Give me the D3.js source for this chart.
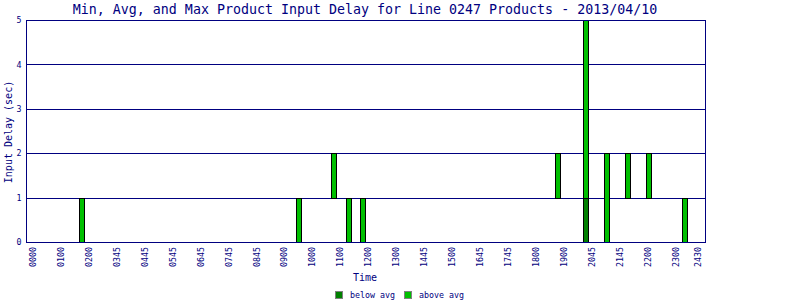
<!DOCTYPE html>
<html>
<head>
<meta charset="utf-8">
<script src="https://cdn.jsdelivr.net/npm/d3@7"></script>
<style>
  html, body { margin: 0; padding: 0; background: #fff; }
  svg { display: block; }
  text { font-family: "DejaVu Sans Mono", "Liberation Mono", monospace; fill: #000080; }
</style>
</head>
<body>
<svg id="chart" width="800" height="300"></svg>
<script>
// ---- data ----
const titleText = "Min, Avg, and Max Product Input Delay for Line 0247 Products - 2013/04/10";
const xTickLabels = ["0000","0100","0200","0345","0445","0545","0645","0745","0845","0900","1000","1100",
                     "1200","1300","1445","1500","1645","1745","1800","1900","2045","2145","2200","2300","2430"];
const xTickSlots  = [0,1,2,3,4,5,6,7,8,9,10,11,12,13,14,15,16,17,18,19,20,21,22,23,23.8];
const barSlots = [1.77, 9.54, 10.79, 11.30, 11.80, 18.80, 19.80, 20.56, 21.31, 22.05, 23.32];
const minDelay = [0, 0, 1, 0, 0, 1, 0, 0, 1, 1, 0];
const avgDelay = [0, 0, 1, 0, 0, 1, 1, 0, 1, 1, 0];
const maxDelay = [1, 1, 2, 1, 1, 2, 5, 2, 2, 2, 1];
const yTicks = [0, 1, 2, 3, 4, 5];
const legendLabels = ["below avg", "above avg"];

// ---- drawing ----
const navy = "#000080";
const colBelow = "#008000", colAbove = "#00c000";
const svg = d3.select("#chart");
const L = 26.5, R = 705.5, T = 20, B = 242;

const x = d3.scaleLinear().domain([-0.225, 24.07]).range([L, R]);
const y = d3.scaleLinear().domain([0, 5]).range([B, T]);

svg.append("rect").attr("width", 800).attr("height", 300).attr("fill", "#fff");

// gridlines
svg.append("g").selectAll("line").data(yTicks.filter(d => d > 0 && d < 5)).join("line")
  .attr("x1", L).attr("x2", R)
  .attr("y1", d => Math.round(y(d)) + 0.5).attr("y2", d => Math.round(y(d)) + 0.5)
  .attr("stroke", navy).attr("stroke-width", 1);

// bars
const bars = svg.append("g");
barSlots.forEach((s, i) => {
  const cx = Math.round(x(s));
  const segs = [
    {lo: minDelay[i], hi: avgDelay[i], c: colBelow},
    {lo: avgDelay[i], hi: maxDelay[i], c: colAbove}
  ];
  segs.forEach(sg => {
    if (sg.hi <= sg.lo) return;
    const y0 = Math.round(y(sg.hi)), y1 = Math.round(y(sg.lo));
    bars.append("rect")
      .attr("x", cx - 2.5).attr("width", 5)
      .attr("y", y0 + 0.5).attr("height", y1 - y0)
      .attr("fill", sg.c).attr("stroke", "#000").attr("stroke-width", 1);
  });
});

// plot frame
svg.append("rect").attr("x", L).attr("y", T + 0.5).attr("width", R - L).attr("height", B - T)
  .attr("fill", "none").attr("stroke", navy).attr("stroke-width", 1);

// y axis labels
const yAxis = d3.axisLeft(y).tickValues(yTicks).tickSize(0).tickPadding(5).tickFormat(d3.format("d"));
const gy = svg.append("g").attr("transform", `translate(${L},0)`).call(yAxis);
gy.select(".domain").remove();
gy.selectAll("text").attr("font-size", "8.3px").attr("fill", navy)
  .style("font-family", '"DejaVu Sans Mono", monospace');

// x axis labels
const xAxis = d3.axisBottom(x).tickValues(xTickSlots).tickSize(0)
  .tickFormat((d, i) => xTickLabels[i]);
const gx = svg.append("g").attr("transform", `translate(0,${B})`).call(xAxis);
gx.select(".domain").remove();
gx.selectAll("text")
  .attr("font-size", "8.3px").attr("fill", navy)
  .style("font-family", '"DejaVu Sans Mono", monospace')
  .attr("text-anchor", "end").attr("dy", "0.32em").attr("y", 0).attr("x", -5)
  .attr("transform", "rotate(-90)");

// title
svg.append("text").attr("x", 365).attr("y", 14).attr("text-anchor", "middle")
  .attr("font-size", "13.3px").text(titleText);

// axis titles
svg.append("text").attr("transform", "translate(12,132) rotate(-90)").attr("text-anchor", "middle")
  .attr("font-size", "10px").text("Input Delay (sec)");
svg.append("text").attr("x", 365).attr("y", 281).attr("text-anchor", "middle")
  .attr("font-size", "10px").text("Time");

// legend
const legendX = [335, 404];
const legendCols = [colBelow, colAbove];
const lg = svg.append("g");
legendLabels.forEach((t, i) => {
  lg.append("rect").attr("x", legendX[i] + 0.5).attr("y", 291.5).attr("width", 7).attr("height", 7)
    .attr("fill", legendCols[i]).attr("stroke", "#808080").attr("stroke-width", 1);
  lg.append("text").attr("x", legendX[i] + 15).attr("y", 298).attr("font-size", "8.3px").text(t);
});
</script>
</body>
</html>
